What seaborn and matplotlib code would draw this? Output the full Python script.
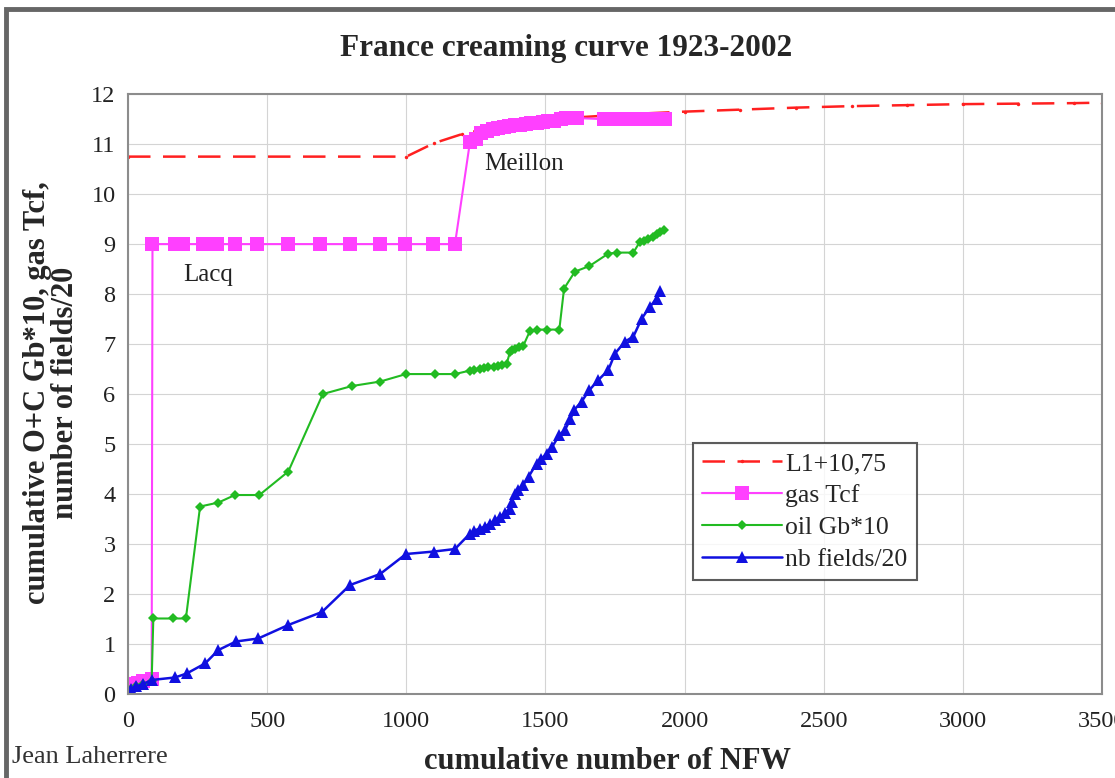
import matplotlib
matplotlib.use("Agg")
import matplotlib.pyplot as plt
import seaborn as sns
import pandas as pd
from matplotlib.patches import Rectangle

# L1 + 10,75 model curve (red dashed)
l1_x = [0, 1000, 1100, 1200, 1300, 1400, 1500, 1600, 1800, 2000, 2200, 2400, 2600, 2800, 3000, 3200, 3400, 3500]
l1_y = [10.75, 10.75, 11.02, 11.2, 11.32, 11.42, 11.48, 11.53, 11.6, 11.65, 11.69, 11.73, 11.76, 11.78, 11.8, 11.81, 11.82, 11.83]

# gas Tcf (magenta squares)
gas_x = [0, 15, 35, 55, 85,
         88, 170, 198, 270, 320, 384, 463, 575, 690, 798, 906, 995, 1096, 1175,
         1229, 1250, 1270, 1290, 1310, 1330, 1350, 1370, 1390, 1410, 1430, 1450, 1470, 1490, 1510, 1530,
         1555, 1575, 1600, 1615,
         1710, 1730, 1750, 1770, 1790, 1810, 1830, 1850, 1870, 1890, 1910, 1930]
gas_y = [0, 0.2, 0.22, 0.25, 0.3,
         9.0, 9.0, 9.0, 9.0, 9.0, 9.0, 9.0, 9.0, 9.0, 9.0, 9.0, 9.0, 9.0, 9.0,
         11.05, 11.1, 11.22, 11.27, 11.3, 11.32, 11.34, 11.36, 11.38, 11.39, 11.41, 11.42, 11.43, 11.44, 11.46, 11.47,
         11.5, 11.52, 11.53, 11.52,
         11.5, 11.5, 11.5, 11.5, 11.5, 11.5, 11.5, 11.5, 11.5, 11.5, 11.5, 11.5]

# oil Gb*10 (green)
oil_x = [0, 10, 30, 55, 85,
         91, 163, 208,
         259, 325, 384, 472, 576,
         700, 804, 906, 999, 1103, 1175,
         1229, 1245, 1265, 1280, 1295, 1315, 1331, 1345, 1361,
         1373, 1380, 1390, 1405, 1420, 1445, 1468, 1504, 1550,
         1567, 1606, 1658, 1726, 1756, 1816,
         1840, 1855, 1870, 1885, 1900, 1912, 1925]
oil_y = [0, 0.1, 0.15, 0.2, 0.25,
         1.51, 1.51, 1.51,
         3.75, 3.83, 3.98, 3.98, 4.45,
         6.0, 6.16, 6.25, 6.4, 6.4, 6.4,
         6.47, 6.48, 6.5, 6.52, 6.55, 6.55, 6.56, 6.58, 6.61,
         6.85, 6.88, 6.91, 6.94, 6.96, 7.27, 7.29, 7.29, 7.29,
         8.11, 8.45, 8.56, 8.81, 8.83, 8.83,
         9.05, 9.06, 9.11, 9.15, 9.21, 9.25, 9.29]

# nb fields/20 (blue triangles)
fields_x = [0, 10, 30, 55, 85, 169, 211, 277, 325, 388, 468, 576,
            697, 798, 906, 999, 1100, 1175,
            1229, 1245, 1265, 1283, 1301, 1320, 1337, 1355, 1373, 1380, 1390, 1400, 1420, 1440,
            1468, 1485, 1504, 1525, 1550, 1570, 1590, 1603, 1630, 1658, 1690, 1726,
            1750, 1786, 1816, 1846, 1876, 1900, 1912]
fields_y = [0, 0.1, 0.15, 0.2, 0.28, 0.33, 0.41, 0.61, 0.88, 1.05, 1.11, 1.38,
            1.64, 2.18, 2.4, 2.8, 2.85, 2.9,
            3.21, 3.27, 3.31, 3.35, 3.41, 3.48, 3.55, 3.62, 3.71, 3.85, 4.01, 4.08, 4.18, 4.35,
            4.61, 4.7, 4.81, 4.95, 5.18, 5.28, 5.5, 5.68, 5.85, 6.08, 6.28, 6.48,
            6.81, 7.05, 7.15, 7.51, 7.75, 7.91, 8.07]

x_ticks = [0, 500, 1000, 1500, 2000, 2500, 3000, 3500]
y_ticks = list(range(0, 13))

sns.set_style("white")
plt.rcParams["font.family"] = ["Liberation Serif", "DejaVu Serif"]

fig = plt.figure(figsize=(11.15, 7.78), dpi=100)
ax = fig.add_axes([0.1148, 0.108, 0.8735, 0.771])

l1 = pd.DataFrame({"x": l1_x, "y": l1_y})
gas = pd.DataFrame({"x": gas_x, "y": gas_y})
oil = pd.DataFrame({"x": oil_x, "y": oil_y})
fields = pd.DataFrame({"x": fields_x, "y": fields_y})

sns.lineplot(data=l1, x="x", y="y", ax=ax, color="#ff2020", linestyle=(0, (9, 5)),
             linewidth=1.8, marker="o", markersize=2.5, markeredgewidth=0,
             estimator=None, sort=False, label="L1+10,75")
sns.lineplot(data=gas, x="x", y="y", ax=ax, color="#ff40ff", linewidth=1.5,
             marker="s", markersize=10, markeredgewidth=0,
             estimator=None, sort=False, label="gas Tcf")
sns.lineplot(data=oil, x="x", y="y", ax=ax, color="#22bb22", linewidth=1.5,
             marker="D", markersize=5.5, markeredgewidth=0,
             estimator=None, sort=False, label="oil Gb*10")
sns.lineplot(data=fields, x="x", y="y", ax=ax, color="#1010e0", linewidth=1.8,
             marker="^", markersize=8, markeredgewidth=0,
             estimator=None, sort=False, label="nb fields/20")

ax.set_xlim(0, 3500)
ax.set_ylim(0, 12)
ax.set_xticks(x_ticks)
ax.set_yticks(y_ticks)
ax.set_xlabel("")
ax.set_ylabel("")
ax.grid(True, color="#d4d4d4", linewidth=0.8)
ax.set_axisbelow(True)
for side in ["top", "right", "bottom", "left"]:
    ax.spines[side].set_visible(True)
    ax.spines[side].set_color("#8c8c8c")
    ax.spines[side].set_linewidth(1.5)
ax.tick_params(axis="both", which="major", length=4, width=1, color="#8c8c8c",
               labelcolor="#222222", labelsize=17.5)
ax.tick_params(axis="x", pad=8)
ax.tick_params(axis="y", pad=5)

ax.text(200, 8.38, "Lacq", fontsize=18, va="center", ha="left", color="#222222")
ax.text(1280, 10.6, "Meillon", fontsize=18, va="center", ha="left", color="#222222")

leg = ax.legend(loc="upper left", bbox_to_anchor=(0.58, 0.418), frameon=True,
                fancybox=False, edgecolor="#333333", fontsize=18.5, handlelength=3.1,
                handletextpad=0.15, borderpad=0.35, labelspacing=0.35, numpoints=1,
                borderaxespad=0)
leg.get_frame().set_linewidth(1.5)

fig.text(0.508, 0.938, "France creaming curve 1923-2002", fontsize=22.5,
         fontweight="bold", ha="center", va="center")
fig.text(0.545, 0.021, "cumulative number of NFW", fontsize=22,
         fontweight="bold", ha="center", va="center")
fig.text(0.046, 0.495, "cumulative O+C Gb*10, gas Tcf,\nnumber of fields/20", fontsize=22,
         fontweight="bold", rotation=90, ha="center", va="center",
         multialignment="center", linespacing=0.95)
fig.text(0.011, 0.027, "Jean Laherrere", fontsize=19, ha="left", va="center",
         color="#333333")

fig.patches.append(Rectangle((0.0054, -0.05), 1.2, 0.989 + 0.05, transform=fig.transFigure,
                             fill=False, edgecolor="#666666", linewidth=3.5))

fig.savefig("out.png", dpi=100)
